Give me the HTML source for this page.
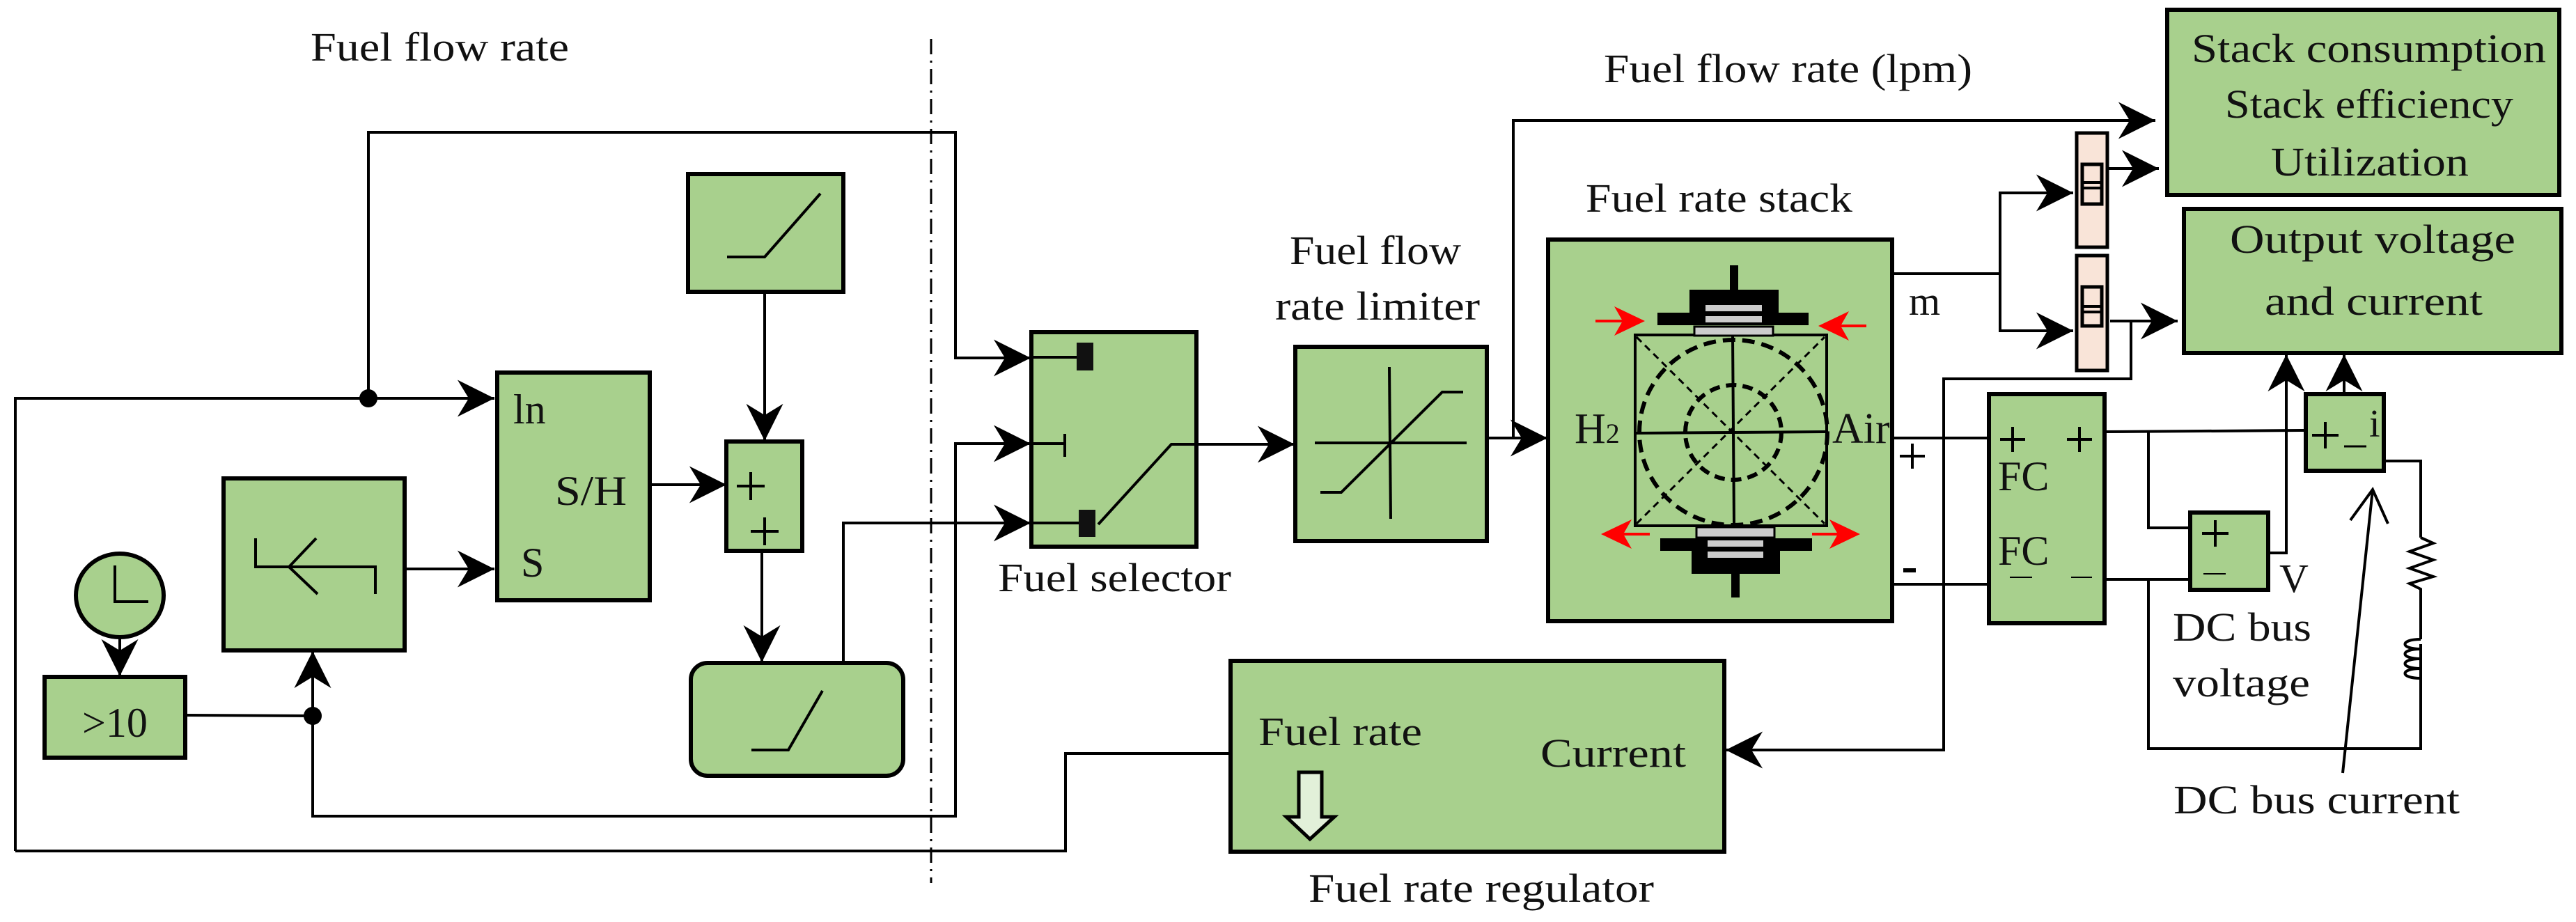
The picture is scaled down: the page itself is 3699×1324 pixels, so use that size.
<!DOCTYPE html>
<html><head><meta charset="utf-8"><style>
html,body{margin:0;padding:0;background:#fff;}
svg{display:block;}
text{font-family:"Liberation Serif",serif;fill:#111;}
</style></head><body>
<svg width="3699" height="1324" viewBox="0 0 3699 1324" xmlns="http://www.w3.org/2000/svg">
<defs>
<marker id="a" markerUnits="userSpaceOnUse" markerWidth="60" markerHeight="60" viewBox="-50 -25 52 50" refX="0" refY="0" orient="auto">
<path d="M0,0 L-46,-23 L-32,0 L-46,23 Z" fill="#000"/>
</marker>
</defs>
<g fill="none" stroke="#000" stroke-width="4">
<!-- dash-dot separator -->
<line x1="1337" y1="56" x2="1337" y2="1268" stroke-width="3" stroke-dasharray="22,9,3,9"/>
<!-- left wiring -->
<polyline points="529,572 529,190 1372,190 1372,514 1480,514" marker-end="url(#a)"/>
<polyline points="22,1222 22,572 710,572" marker-end="url(#a)"/>
<line x1="581" y1="817" x2="710" y2="817" marker-end="url(#a)"/>
<line x1="172" y1="917" x2="172" y2="971" marker-end="url(#a)"/>
<line x1="266" y1="1027" x2="449" y2="1028"/>
<polyline points="449,1028 449,935" marker-end="url(#a)"/>
<polyline points="449,1028 449,1172 1372,1172 1372,637 1480,637" marker-end="url(#a)"/>
<line x1="933" y1="696" x2="1043" y2="696" marker-end="url(#a)"/>
<line x1="1098" y1="419" x2="1098" y2="633" marker-end="url(#a)"/>
<line x1="1094" y1="791" x2="1094" y2="951" marker-end="url(#a)"/>
<polyline points="1211,952 1211,751 1480,751" marker-end="url(#a)"/>
<polyline points="22,1222 1530,1222 1530,1082 1767,1082"/>
<!-- selector out -->
<line x1="1718" y1="638" x2="1859" y2="638" marker-end="url(#a)"/>
<line x1="2135" y1="629" x2="2222" y2="629" marker-end="url(#a)"/>
<polyline points="2173,629 2173,173 3095,173" marker-end="url(#a)"/>
<!-- m branch -->
<polyline points="2717,393 2872,393 2872,277 2977,277" marker-end="url(#a)"/>
<polyline points="2872,393 2872,475 2977,475" marker-end="url(#a)"/>
<line x1="3026" y1="242" x2="3100" y2="242" marker-end="url(#a)"/>
<line x1="3030" y1="461" x2="3127" y2="461" marker-end="url(#a)"/>
<polyline points="3060,461 3060,544 2791,544 2791,1077 2478,1077" marker-end="url(#a)"/>
<!-- FC wiring -->
<line x1="2717" y1="629" x2="2856" y2="629"/>
<line x1="2717" y1="839" x2="2856" y2="839"/>
<line x1="3022" y1="620" x2="3311" y2="618"/>
<polyline points="3085,620 3085,758 3145,758"/>
<line x1="3022" y1="832" x2="3145" y2="832"/>
<polyline points="3085,832 3085,1075 3476,1075 3476,925"/>
<polyline points="3476,772 3476,662 3423,662"/>
<polyline points="3257,794 3283,794 3283,509" marker-end="url(#a)"/>
<line x1="3366" y1="566" x2="3366" y2="509" marker-end="url(#a)"/>
<!-- resistor/inductor -->
<polyline points="3476,772 3494,780 3460,792 3494,804 3460,816 3494,828 3460,838 3476,846 3476,918"/>
<path d="M3476,918 C3446,918 3446,932 3476,932 C3446,932 3446,946 3476,946 C3446,946 3446,960 3476,960 C3446,960 3446,974 3476,974 L3476,984"/>
<!-- DC bus current arrow -->
<line x1="3364" y1="1110" x2="3407" y2="703"/>
<polyline points="3375,747 3407,703 3429,752"/>
</g>
<!-- dots -->
<circle cx="529" cy="572" r="13" fill="#000"/>
<circle cx="449" cy="1028" r="13" fill="#000"/>

<g fill="#a8d08d" stroke="#000" stroke-width="6">
<rect x="988" y="250" width="223" height="169"/>
<rect x="714" y="535" width="219" height="327"/>
<rect x="321" y="687" width="260" height="247"/>
<rect x="1043" y="634" width="109" height="157"/>
<rect x="992" y="952" width="305" height="162" rx="24"/>
<ellipse cx="172" cy="855" rx="63" ry="60"/>
<rect x="64" y="972" width="202" height="116"/>
<rect x="1481" y="477" width="237" height="308"/>
<rect x="1860" y="498" width="275" height="279"/>
<rect x="2223" y="344" width="494" height="548"/>
<rect x="1767" y="949" width="709" height="274"/>
<rect x="3112" y="14" width="563" height="266"/>
<rect x="3136" y="300" width="542" height="207"/>
<rect x="2856" y="566" width="166" height="329"/>
<rect x="3145" y="736" width="112" height="111"/>
<rect x="3311" y="566" width="112" height="110"/>
</g>
<g fill="#f9e4d8" stroke="#000" stroke-width="5">
<rect x="2982" y="191" width="44" height="164"/>
<rect x="2982" y="367" width="44" height="165"/>
<rect x="2990" y="236" width="28" height="57"/>
<rect x="2990" y="412" width="28" height="56"/>
</g>
<g stroke="#000" stroke-width="4" fill="none">
<line x1="2990" y1="262" x2="3018" y2="262"/><line x1="2990" y1="270" x2="3018" y2="270"/>
<line x1="2990" y1="440" x2="3018" y2="440"/><line x1="2990" y1="448" x2="3018" y2="448"/>
<!-- block glyphs -->
<polyline points="1044,369 1098,369 1178,278"/>
<polyline points="1079,1077 1132,1077 1181,992"/>
<polyline points="367,773 367,814 539,814 539,853"/>
<polyline points="454,773 415,814 456,853"/>
<polyline points="165,812 165,864 213,864"/>
<line x1="1058" y1="698" x2="1098" y2="698"/><line x1="1078" y1="678" x2="1078" y2="718"/>
<line x1="1078" y1="763" x2="1118" y2="763"/><line x1="1098" y1="743" x2="1098" y2="783"/>
<!-- selector internals -->
<line x1="1481" y1="513" x2="1548" y2="513"/>
<line x1="1481" y1="637" x2="1529" y2="637"/>
<line x1="1529" y1="623" x2="1529" y2="656"/>
<line x1="1481" y1="751" x2="1551" y2="751"/>
<polyline points="1577,753 1682,638 1718,638"/>
<!-- limiter -->
<line x1="1888" y1="636" x2="2106" y2="636"/>
<line x1="1995" y1="527" x2="1997" y2="745"/>
<polyline points="1896,707 1926,707 2071,563 2101,563"/>
<!-- stack internals -->
<rect x="2348" y="481" width="275" height="274"/>
<line x1="2350" y1="622" x2="2621" y2="620"/>
<line x1="2488" y1="483" x2="2490" y2="753"/>
</g>
<rect x="1546" y="492" width="24" height="40" fill="#111"/>
<rect x="1549" y="732" width="24" height="39" fill="#111"/>
<g stroke="#000" fill="none">
<line x1="2350" y1="484" x2="2620" y2="752" stroke-width="3" stroke-dasharray="10,7"/>
<line x1="2350" y1="752" x2="2620" y2="484" stroke-width="3" stroke-dasharray="10,7"/>
<ellipse cx="2489" cy="621" rx="135" ry="133" stroke-width="6" stroke-dasharray="18,10"/>
<ellipse cx="2489" cy="621" rx="69" ry="68" stroke-width="6" stroke-dasharray="15,9"/>
</g>
<g fill="#000">
<rect x="2484" y="381" width="12" height="37"/>
<rect x="2426" y="416" width="128" height="36"/>
<rect x="2380" y="449" width="217" height="18"/>
<rect x="2486" y="823" width="12" height="35"/>
<rect x="2429" y="790" width="127" height="34"/>
<rect x="2384" y="773" width="218" height="18"/>
</g>
<g fill="#cccccc">
<rect x="2449" y="438" width="81" height="9"/>
<rect x="2449" y="454" width="81" height="9"/>
<rect x="2433" y="469" width="113" height="13" stroke="#000" stroke-width="3"/>
<rect x="2436" y="757" width="112" height="15" stroke="#000" stroke-width="3"/>
<rect x="2452" y="776" width="80" height="9"/>
<rect x="2452" y="792" width="80" height="9"/>
</g>
<g stroke="#f00" stroke-width="4" fill="#f00">
<line x1="2291" y1="461" x2="2345" y2="461"/><path d="M2362,461 L2318,440 L2330,461 L2318,482 Z" stroke="none"/>
<line x1="2680" y1="468" x2="2628" y2="468"/><path d="M2611,468 L2655,447 L2643,468 L2655,489 Z" stroke="none"/>
<line x1="2369" y1="767" x2="2316" y2="767"/><path d="M2299,767 L2343,746 L2331,767 L2343,788 Z" stroke="none"/>
<line x1="2602" y1="767" x2="2654" y2="767"/><path d="M2671,767 L2627,746 L2639,767 L2627,788 Z" stroke="none"/>
</g>
<!-- hollow arrow -->
<path d="M1865,1109 L1898,1109 L1898,1173 L1916,1173 L1881,1205 L1847,1173 L1865,1173 Z" fill="#e2f0d9" stroke="#000" stroke-width="5"/>
<!-- small +/- in FC, V, i boxes -->
<g stroke="#000" stroke-width="4">
<line x1="2872" y1="631" x2="2908" y2="631"/><line x1="2890" y1="613" x2="2890" y2="649"/>
<line x1="2968" y1="631" x2="3004" y2="631"/><line x1="2986" y1="613" x2="2986" y2="649"/>
<line x1="2886" y1="829" x2="2918" y2="829" stroke-width="2"/><line x1="2974" y1="829" x2="3004" y2="829" stroke-width="2"/>
<line x1="3162" y1="766" x2="3200" y2="766"/><line x1="3181" y1="747" x2="3181" y2="785"/>
<line x1="3164" y1="824" x2="3196" y2="824" stroke-width="2"/>
<line x1="3320" y1="625" x2="3358" y2="625"/><line x1="3339" y1="606" x2="3339" y2="644"/>
<line x1="3366" y1="641" x2="3398" y2="641" stroke-width="3"/>
<line x1="2728" y1="655" x2="2764" y2="655"/><line x1="2746" y1="637" x2="2746" y2="673"/>
<line x1="2733" y1="819" x2="2751" y2="819" stroke-width="6"/>
</g>
<!-- labels -->
<g font-size="58">
<text x="446" y="87" textLength="371" lengthAdjust="spacingAndGlyphs">Fuel flow rate</text>
<text x="737" y="608" font-size="60">ln</text>
<text x="797" y="725" font-size="60" textLength="103" lengthAdjust="spacingAndGlyphs">S/H</text>
<text x="748" y="828" font-size="60">S</text>
<text x="118" y="1058" font-size="60">&gt;10</text>
<text x="1852" y="379" textLength="246" lengthAdjust="spacingAndGlyphs">Fuel flow</text>
<text x="1831" y="459" textLength="294" lengthAdjust="spacingAndGlyphs">rate limiter</text>
<text x="1433" y="849" textLength="335" lengthAdjust="spacingAndGlyphs">Fuel selector</text>
<text x="2303" y="118" textLength="529" lengthAdjust="spacingAndGlyphs">Fuel flow rate (lpm)</text>
<text x="2277" y="304" textLength="383" lengthAdjust="spacingAndGlyphs">Fuel rate stack</text>
<text x="3147" y="89" textLength="509" lengthAdjust="spacingAndGlyphs">Stack consumption</text>
<text x="3195" y="169" textLength="414" lengthAdjust="spacingAndGlyphs">Stack efficiency</text>
<text x="3261" y="252" textLength="284" lengthAdjust="spacingAndGlyphs">Utilization</text>
<text x="3202" y="363" textLength="410" lengthAdjust="spacingAndGlyphs">Output voltage</text>
<text x="3252" y="452" textLength="313" lengthAdjust="spacingAndGlyphs">and current</text>
<text x="1807" y="1070" textLength="235" lengthAdjust="spacingAndGlyphs">Fuel rate</text>
<text x="2212" y="1101" textLength="209" lengthAdjust="spacingAndGlyphs">Current</text>
<text x="1879" y="1295" textLength="496" lengthAdjust="spacingAndGlyphs">Fuel rate regulator</text>
<text x="2261" y="636" font-size="62">H<tspan font-size="40">2</tspan></text>
<text x="2631" y="636" font-size="62">Air</text>
<text x="2741" y="452">m</text>
<text x="2869" y="704" font-size="60">FC</text>
<text x="2869" y="811" font-size="60">FC</text>
<text x="3402" y="627" font-size="56">i</text>
<text x="3273" y="850" font-size="58">V</text>
<text x="3120" y="920" textLength="199" lengthAdjust="spacingAndGlyphs">DC bus</text>
<text x="3120" y="1000" textLength="197" lengthAdjust="spacingAndGlyphs">voltage</text>
<text x="3121" y="1168" textLength="411" lengthAdjust="spacingAndGlyphs">DC bus current</text>
</g>
</svg>
</body></html>
